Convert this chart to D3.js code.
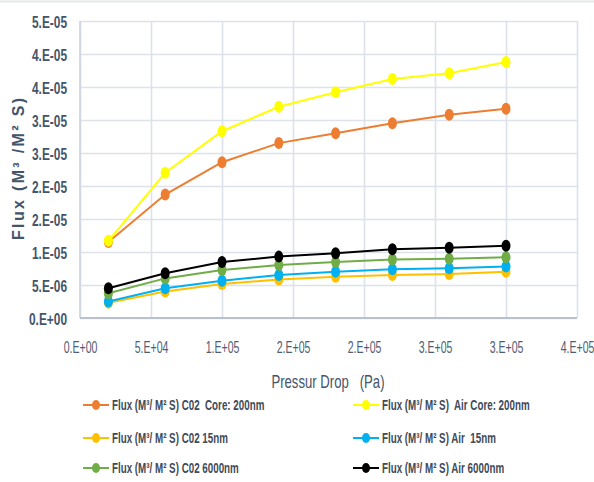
<!DOCTYPE html>
<html>
<head>
<meta charset="utf-8">
<script src="https://cdn.jsdelivr.net/npm/d3@7"></script>
<style>
  body { margin: 0; background: #ffffff; }
  svg { display: block; }
  text { font-family: "Liberation Sans", Arial, sans-serif; }
</style>
</head>
<body>
<svg id="chart" width="594" height="482"></svg>
<script>
// Pressure drop (Pa) at each measurement
const pressureDrop = [20000, 60000, 100000, 140000, 180000, 220000, 260000, 300000];

// Flux (m3 / m2 s) per gas and pore size
const fluxCo2Core200 = [1.15e-5, 1.87e-5, 2.36e-5, 2.65e-5, 2.80e-5, 2.95e-5, 3.08e-5, 3.17e-5];
const fluxAirCore200 = [1.17e-5, 2.20e-5, 2.83e-5, 3.20e-5, 3.42e-5, 3.62e-5, 3.71e-5, 3.88e-5];
const fluxCo2_15nm   = [2.3e-6, 4.0e-6, 5.15e-6, 5.85e-6, 6.25e-6, 6.5e-6, 6.65e-6, 7.0e-6];
const fluxAir_15nm   = [2.5e-6, 4.5e-6, 5.65e-6, 6.5e-6, 7.0e-6, 7.38e-6, 7.55e-6, 7.8e-6];
const fluxCo2_6000nm = [3.75e-6, 6.0e-6, 7.27e-6, 8.03e-6, 8.5e-6, 8.85e-6, 8.98e-6, 9.2e-6];
const fluxAir_6000nm = [4.5e-6, 6.77e-6, 8.5e-6, 9.3e-6, 9.8e-6, 1.04e-5, 1.065e-5, 1.095e-5];

const seriesNames = [
  "Flux (M\u00B3/ M\u00B2 S) C02  Core: 200nm",
  "Flux (M\u00B3/ M\u00B2 S)  Air Core: 200nm",
  "Flux (M\u00B3/ M\u00B2 S) C02 15nm",
  "Flux (M\u00B3/ M\u00B2 S) Air  15nm",
  "Flux (M\u00B3/ M\u00B2 S) C02 6000nm",
  "Flux (M\u00B3/ M\u00B2 S) Air 6000nm"
];
const seriesValues = [fluxCo2Core200, fluxAirCore200, fluxCo2_15nm, fluxAir_15nm, fluxCo2_6000nm, fluxAir_6000nm];
const seriesColors = ["#ED7D31", "#FFFF00", "#FFC000", "#00B0F0", "#70AD47", "#000000"];

const xTickValues = [0, 50000, 100000, 150000, 200000, 250000, 300000, 350000];
const xTickLabels = ["0.E+00", "5.E+04", "1.E+05", "2.E+05", "2.E+05", "3.E+05", "3.E+05", "4.E+05"];
const yTickValues = [0, 5e-6, 1e-5, 1.5e-5, 2e-5, 2.5e-5, 3e-5, 3.5e-5, 4e-5, 4.5e-5];
const yTickLabels = ["0.E+00", "5.E-06", "1.E-05", "2.E-05", "2.E-05", "3.E-05", "3.E-05", "4.E-05", "4.E-05", "5.E-05"];

const xTitle = "Pressur Drop   (Pa)";
const yTitle = "Flux (M\u00B3 /M\u00B2 S)";

const svg = d3.select("#chart");
const plot = { left: 80, right: 577, top: 21, bottom: 318 };

const x = d3.scaleLinear().domain([0, 350000]).range([plot.left, plot.right]);
const y = d3.scaleLinear().domain([0, 4.5e-5]).range([plot.bottom, plot.top]);

const slate = "#44546A";

// thin frame line along the top of the chart area
svg.append("line")
  .attr("x1", 0).attr("x2", 594).attr("y1", 1.5).attr("y2", 1.5)
  .attr("stroke", "#e4e7ec").attr("stroke-width", 2);

// horizontal gridlines + y tick labels
const yAxis = svg.append("g")
  .attr("transform", `translate(${plot.left},0)`)
  .call(d3.axisLeft(y)
    .tickValues(yTickValues)
    .tickFormat((d, i) => yTickLabels[i])
    .tickSize(-(plot.right - plot.left))
    .tickPadding(0));
yAxis.select(".domain").remove();
yAxis.selectAll(".tick line").attr("stroke", "#dde2ea").attr("stroke-width", 1.6);
const ySx = 0.7;
yAxis.selectAll(".tick text")
  .attr("transform", `scale(${ySx},1)`)
  .attr("x", -13 / ySx)
  .attr("dy", "0.36em")
  .attr("fill", slate)
  .attr("font-weight", "bold")
  .attr("font-size", 17);

// vertical gridlines + x tick labels
const xAxis = svg.append("g")
  .attr("transform", `translate(0,${plot.bottom})`)
  .call(d3.axisBottom(x)
    .tickValues(xTickValues)
    .tickFormat((d, i) => xTickLabels[i])
    .tickSize(-(plot.bottom - plot.top))
    .tickPadding(0));
xAxis.select(".domain").remove();
xAxis.selectAll(".tick line").attr("stroke", "#dde2ea").attr("stroke-width", 1.6);
const xSx = 0.66;
xAxis.selectAll(".tick text")
  .attr("transform", `scale(${xSx},1)`)
  .attr("x", 0)
  .attr("y", 35)
  .attr("dy", 0)
  .attr("fill", "#4f5d72")
  .attr("font-size", 16);

// axis lines
svg.append("line")
  .attr("x1", plot.left).attr("x2", plot.left)
  .attr("y1", plot.top).attr("y2", plot.bottom)
  .attr("stroke", "#cfd5de").attr("stroke-width", 1.6);
svg.append("line")
  .attr("x1", plot.left).attr("x2", plot.right)
  .attr("y1", plot.bottom).attr("y2", plot.bottom)
  .attr("stroke", "#b9c1cc").attr("stroke-width", 1.8);

// series lines and markers
const line = d3.line()
  .x((d, i) => x(pressureDrop[i]))
  .y(d => y(d));

seriesValues.forEach((vals, s) => {
  const g = svg.append("g");
  g.append("path")
    .datum(vals)
    .attr("d", line)
    .attr("fill", "none")
    .attr("stroke", seriesColors[s])
    .attr("stroke-width", 2);
  g.selectAll("ellipse")
    .data(vals)
    .join("ellipse")
    .attr("cx", (d, i) => x(pressureDrop[i]))
    .attr("cy", d => y(d))
    .attr("rx", 4.5)
    .attr("ry", 6)
    .attr("fill", seriesColors[s]);
});

// y axis title
svg.append("text")
  .attr("transform", "translate(24,169) rotate(-90)")
  .attr("text-anchor", "middle")
  .attr("font-family", "'Open Sans', sans-serif")
  .attr("font-weight", "bold")
  .attr("font-size", 16)
  .attr("textLength", 142)
  .attr("lengthAdjust", "spacing")
  .attr("fill", slate)
  .text(yTitle);

// x axis title
const tSx = 0.73;
svg.append("text")
  .attr("transform", `scale(${tSx},1)`)
  .attr("x", 328 / tSx)
  .attr("y", 388)
  .attr("text-anchor", "middle")
  .attr("font-size", 18)
  .attr("fill", slate)
  .style("white-space", "pre")
  .text(xTitle);

// legend, two columns by three rows
const legendCols = [83, 353];
const legendRows = [405, 438, 468];
const lSx = 0.7;
seriesNames.forEach((name, s) => {
  const lx = legendCols[s % 2];
  const ly = legendRows[Math.floor(s / 2)];
  const g = svg.append("g");
  g.append("line")
    .attr("x1", lx).attr("x2", lx + 26)
    .attr("y1", ly).attr("y2", ly)
    .attr("stroke", seriesColors[s]).attr("stroke-width", 2);
  g.append("ellipse")
    .attr("cx", lx + 13).attr("cy", ly)
    .attr("rx", 4).attr("ry", 5)
    .attr("fill", seriesColors[s]);
  g.append("text")
    .attr("transform", `scale(${lSx},1)`)
    .attr("x", (lx + 29) / lSx)
    .attr("y", ly + 5)
    .attr("font-size", 14)
    .attr("font-weight", "bold")
    .attr("fill", "#414a58")
    .style("white-space", "pre")
    .text(name);
});
</script>
</body>
</html>
